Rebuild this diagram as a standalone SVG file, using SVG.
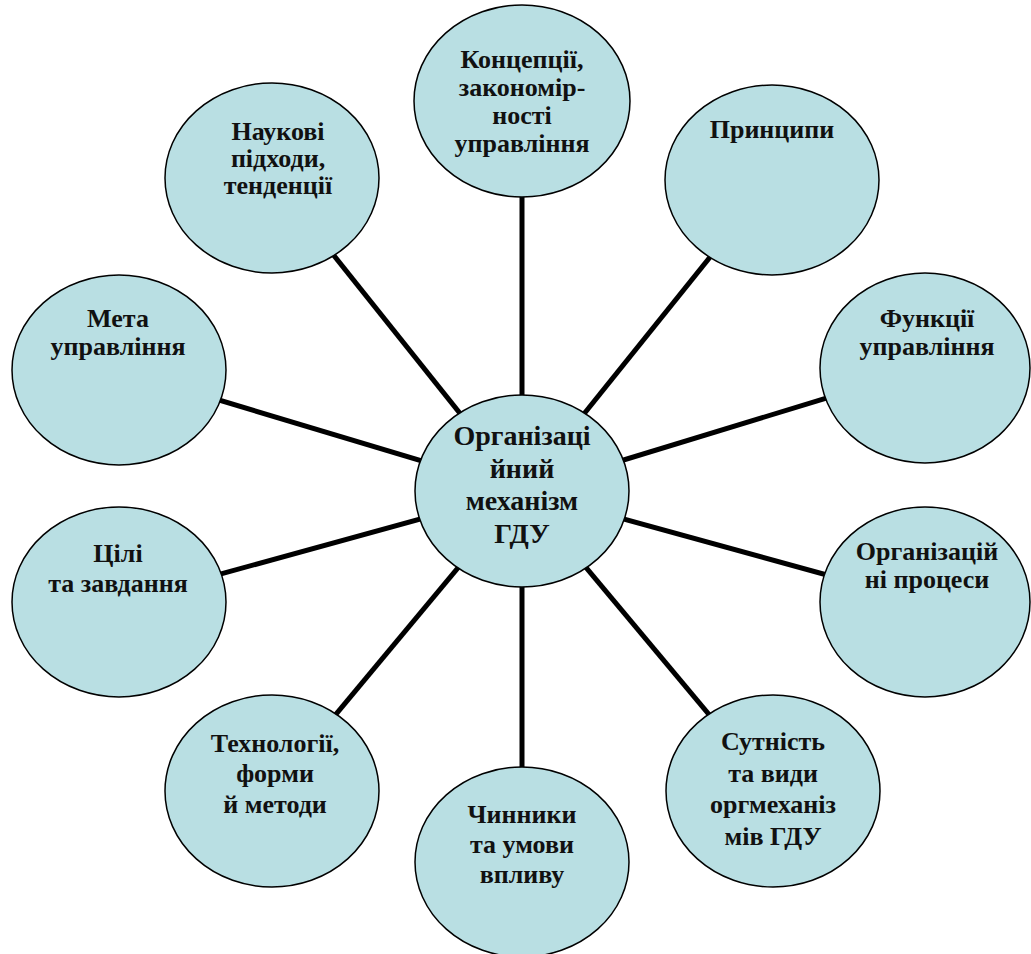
<svg xmlns="http://www.w3.org/2000/svg" width="1031" height="954" viewBox="0 0 1031 954">
<style>
.n{fill:#b9dfe3;stroke:#000;stroke-width:1.5}
.t{font-family:"Liberation Serif","Times New Roman",serif;font-weight:bold;font-size:26px;fill:#111;text-anchor:middle}
.c{font-size:28px}
.l{stroke:#000;stroke-width:5;fill:none}
</style>
<rect width="1031" height="954" fill="#fff"/>
<g id="connectors">
<line class="l" x1="522" y1="491" x2="522" y2="101"/>
<line class="l" x1="522" y1="491" x2="772" y2="180"/>
<line class="l" x1="522" y1="491" x2="925" y2="368"/>
<line class="l" x1="522" y1="491" x2="925" y2="602"/>
<line class="l" x1="522" y1="491" x2="773" y2="791"/>
<line class="l" x1="522" y1="491" x2="522" y2="862"/>
<line class="l" x1="522" y1="491" x2="272" y2="791"/>
<line class="l" x1="522" y1="491" x2="119" y2="602"/>
<line class="l" x1="522" y1="491" x2="119" y2="370"/>
<line class="l" x1="522" y1="491" x2="272" y2="178"/>
</g>
<g id="center">
<ellipse class="n" cx="522" cy="491" rx="107" ry="96"/>
<text class="t c" x="522" y="445">Організаці</text>
<text class="t c" x="522" y="477.5">йний</text>
<text class="t c" x="522" y="510">механізм</text>
<text class="t c" x="522" y="542.5">ГДУ</text>
</g>
<g id="concepts">
<ellipse class="n" cx="522" cy="101" rx="108" ry="96"/>
<text class="t" x="522" y="68">Концепції,</text>
<text class="t" x="522" y="96">закономір-</text>
<text class="t" x="522" y="124">ності</text>
<text class="t" x="522" y="152">управління</text>
</g>
<g id="principles">
<ellipse class="n" cx="772" cy="180" rx="107" ry="95"/>
<text class="t" x="772" y="138">Принципи</text>
</g>
<g id="functions">
<ellipse class="n" cx="925" cy="368" rx="105" ry="95"/>
<text class="t" x="927" y="327">Функції</text>
<text class="t" x="927" y="355">управління</text>
</g>
<g id="processes">
<ellipse class="n" cx="925" cy="602" rx="105" ry="95"/>
<text class="t" x="927" y="560">Організацій</text>
<text class="t" x="927" y="588">ні процеси</text>
</g>
<g id="essence">
<ellipse class="n" cx="773" cy="791" rx="107" ry="96"/>
<text class="t" x="773" y="750">Сутність</text>
<text class="t" x="773" y="782">та види</text>
<text class="t" x="773" y="813">оргмеханіз</text>
<text class="t" x="773" y="845">мів ГДУ</text>
</g>
<g id="factors">
<ellipse class="n" cx="522" cy="862" rx="107" ry="95"/>
<text class="t" x="522" y="823">Чинники</text>
<text class="t" x="522" y="853">та умови</text>
<text class="t" x="522" y="883">впливу</text>
</g>
<g id="technologies">
<ellipse class="n" cx="272" cy="791" rx="107" ry="96"/>
<text class="t" x="275" y="752">Технології,</text>
<text class="t" x="275" y="782">форми</text>
<text class="t" x="275" y="813">й методи</text>
</g>
<g id="goals">
<ellipse class="n" cx="119" cy="602" rx="107" ry="95"/>
<text class="t" x="118" y="562">Цілі</text>
<text class="t" x="118" y="592">та завдання</text>
</g>
<g id="aim">
<ellipse class="n" cx="119" cy="370" rx="107" ry="95"/>
<text class="t" x="118" y="327">Мета</text>
<text class="t" x="118" y="355">управління</text>
</g>
<g id="approaches">
<ellipse class="n" cx="272" cy="178" rx="107" ry="95"/>
<text class="t" x="278" y="140">Наукові</text>
<text class="t" x="278" y="167">підходи,</text>
<text class="t" x="278" y="194">тенденції</text>
</g>
</svg>
